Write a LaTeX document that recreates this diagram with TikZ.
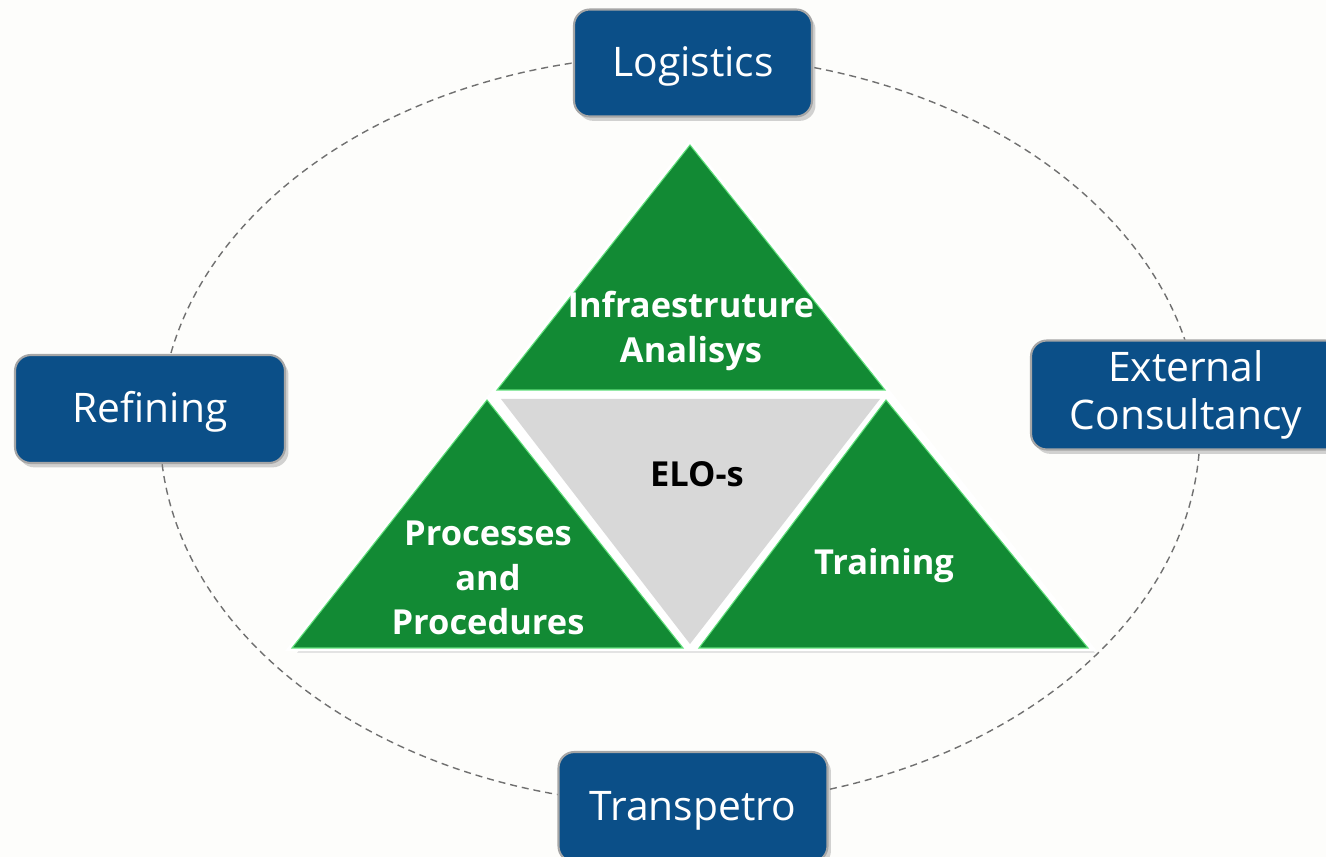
\documentclass[tikz,border=0pt]{standalone}
\usepackage{fontspec}
\setmainfont{Open Sans}
\usetikzlibrary{shadows}
\definecolor{boxblu}{HTML}{0B4F88}
\definecolor{trigrn}{HTML}{128A34}
\definecolor{edggrn}{HTML}{5FE07A}
\definecolor{trigry}{HTML}{D8D8D8}
\definecolor{ringgry}{HTML}{707070}
\definecolor{bgwht}{HTML}{FDFDFB}

\tikzset{
  unitbox/.style={rounded corners=9pt, fill=boxblu, draw=gray!70, line width=1.2pt,
    text=white, font=\fontsize{23.2}{27.5}\selectfont,
    drop shadow={shadow xshift=2pt, shadow yshift=-2.5pt, opacity=.35}},
  tritext/.style={text=white, align=center, font=\fontsize{19.6}{25.5}\selectfont\bfseries},
  tripiece/.style={fill=trigrn, draw=edggrn, line width=0.6pt},
}

\begin{document}
\begin{tikzpicture}[x=0.02cm, y=-0.02cm]

\useasboundingbox (0, 0) rectangle (1326, 857);
\fill[bgwht] (0, 0) rectangle (1326, 857);

% dashed ring round the triangle
\draw[ringgry, line width=0.8pt, dash pattern=on 4pt off 2.8pt] (680, 430) ellipse (520 and 375);

% shadow under the triangle group
\fill[gray!22] (692, 149) -- (890, 394) -- (1095, 653) -- (297, 653) -- (492, 403) -- cycle;
\fill[white] (690, 139) -- (892, 393) -- (1097, 651) -- (285, 651) -- (490, 393) -- cycle;

\fill[tripiece] (690, 145) -- (885, 390) -- (497, 390) -- cycle;
\fill[tripiece] (487, 400) -- (683, 648) -- (292, 648) -- cycle;
\fill[tripiece] (886, 400) -- (1088, 648) -- (699, 648) -- cycle;
\fill[trigry] (501, 399) -- (880, 399) -- (690, 644) -- cycle;

\node[tritext] (infra) at (691, 331) {Infraestruture\\Analisys};
\node[tritext, text=black] (elos) at (697, 474) {ELO-s};
\node[tritext] (procs) at (488, 578) {Processes\\and\\Procedures};
\node[tritext] (train) at (884, 566) {Training};

% the four units round the ring
\node[unitbox, text height=21.5pt, text depth=5.6pt, minimum width=4.76cm, minimum height=2.14cm] (logis) at (693, 63) {Logistics};
\node[unitbox, text height=21.5pt, text depth=5.6pt, minimum width=5.4cm, minimum height=2.16cm] (refin) at (150, 409) {Refining};
\node[unitbox, align=center, minimum width=6.2cm, minimum height=2.18cm] (extcon) at (1186, 395) {External\\Consultancy};
\node[unitbox, text height=21.5pt, text depth=5.6pt, minimum width=5.38cm, minimum height=2.2cm] (trans) at (693, 807) {Transpetro};

\end{tikzpicture}
\end{document}
